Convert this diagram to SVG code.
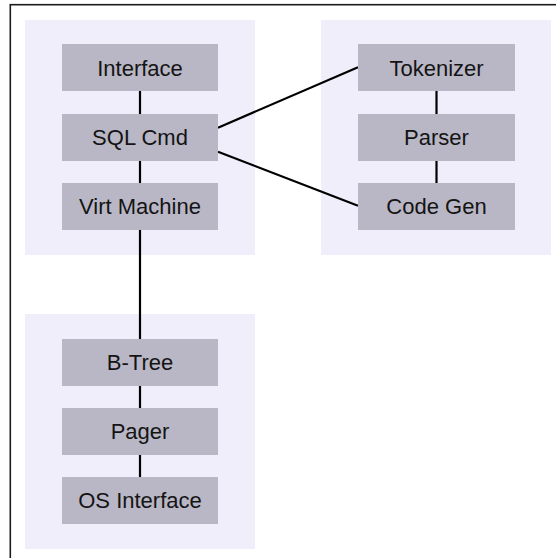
<svg xmlns="http://www.w3.org/2000/svg" width="556" height="558" viewBox="0 0 556 558">
  <style>
    .frame { fill: #ffffff; stroke: #1c1c1c; stroke-width: 1.6; }
    .panel { fill: #F0EEFA; stroke: none; }
    .node rect { fill: #B9B7C6; stroke: none; }
    .node text { font-family: "Liberation Sans", Arial, sans-serif; font-size: 22px; fill: #141414; text-anchor: middle; }
    .conn line { stroke: #000000; stroke-width: 2.2; }
  </style>
  <rect x="0" y="0" width="556" height="558" fill="#ffffff"/>
  <rect class="frame" x="10.3" y="4.7" width="570" height="580"/>

  <g id="panels">
    <rect id="panel-core" class="panel" x="25" y="20" width="230" height="235"/>
    <rect id="panel-compiler" class="panel" x="321" y="20" width="230" height="235"/>
    <rect id="panel-backend" class="panel" x="25" y="314" width="230" height="235"/>
  </g>

  <g id="connectors" class="conn">
    <line x1="140" y1="90.5" x2="140" y2="114.5"/>
    <line x1="140" y1="160.5" x2="140" y2="183.5"/>
    <line x1="140" y1="229.5" x2="140" y2="339.5"/>
    <line x1="140" y1="385.5" x2="140" y2="408.5"/>
    <line x1="140" y1="454.5" x2="140" y2="477.5"/>
    <line x1="436.5" y1="90.5" x2="436.5" y2="114.5"/>
    <line x1="436.5" y1="160.5" x2="436.5" y2="183.5"/>
    <line x1="218" y1="127.7" x2="358" y2="67.3"/>
    <line x1="218" y1="151.7" x2="358" y2="205.7"/>
  </g>

  <g id="node-interface" class="node">
    <rect x="62" y="44" width="156" height="47"/>
    <text x="140" y="75.5">Interface</text>
  </g>
  <g id="node-sqlcmd" class="node">
    <rect x="62" y="114" width="156" height="47"/>
    <text x="140" y="145">SQL Cmd</text>
  </g>
  <g id="node-virtmachine" class="node">
    <rect x="62" y="183" width="156" height="47"/>
    <text x="140" y="214">Virt Machine</text>
  </g>
  <g id="node-tokenizer" class="node">
    <rect x="358" y="44" width="157" height="47"/>
    <text x="436.5" y="75.5">Tokenizer</text>
  </g>
  <g id="node-parser" class="node">
    <rect x="358" y="114" width="157" height="47"/>
    <text x="436.5" y="145">Parser</text>
  </g>
  <g id="node-codegen" class="node">
    <rect x="358" y="183" width="157" height="47"/>
    <text x="436.5" y="214">Code Gen</text>
  </g>
  <g id="node-btree" class="node">
    <rect x="62" y="339" width="156" height="47"/>
    <text x="140" y="370">B-Tree</text>
  </g>
  <g id="node-pager" class="node">
    <rect x="62" y="408" width="156" height="47"/>
    <text x="140" y="439">Pager</text>
  </g>
  <g id="node-osinterface" class="node">
    <rect x="62" y="477" width="156" height="47"/>
    <text x="140" y="508">OS Interface</text>
  </g>
</svg>
